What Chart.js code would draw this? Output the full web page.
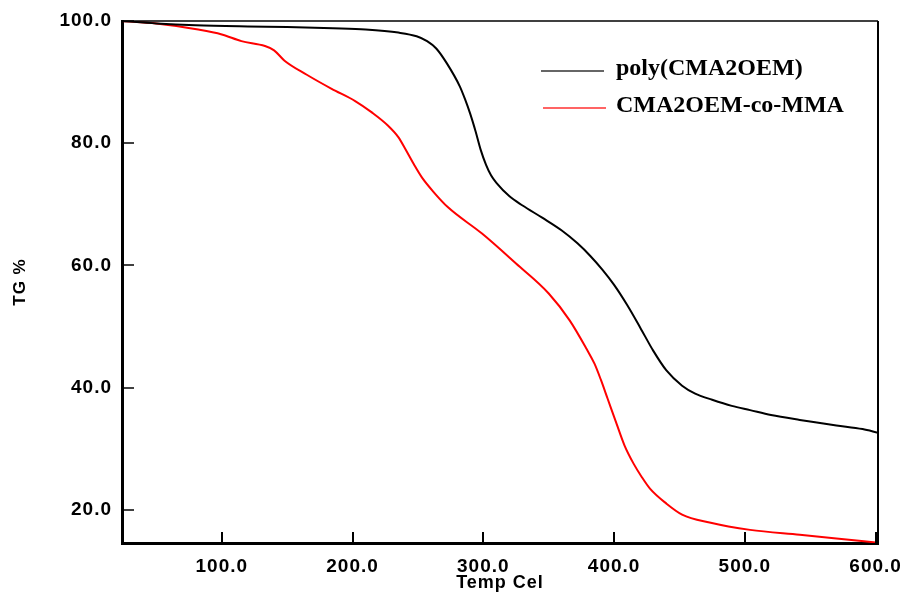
<!DOCTYPE html>
<html>
<head>
<meta charset="utf-8">
<script src="https://cdn.jsdelivr.net/npm/chart.js@4.4.1/dist/chart.umd.min.js"></script>
<style>
    html, body { margin: 0; padding: 0; background: #fff; }
    #wrap { width: 904px; height: 594px; }
</style>
</head>
<body>
<div id="wrap"><canvas id="tgaChart" width="904" height="594"></canvas></div>
<script>
// TGA curves
const polyTemp = [23.7, 50, 80, 120, 150, 185, 210, 235, 249, 257, 264, 272, 282, 286, 290, 294, 298, 302, 306, 310, 320, 330, 345, 360, 372, 382, 391, 400, 410, 420, 430, 440, 452, 462, 475, 490, 504, 520, 542, 570, 590, 601.8];
const polyTG = [100, 99.6, 99.3, 99.1, 99.0, 98.8, 98.6, 98.1, 97.5, 96.7, 95.5, 93.1, 89.3, 87.2, 84.8, 82, 78.9, 76.5, 74.7, 73.5, 71.3, 69.8, 67.8, 65.7, 63.6, 61.5, 59.3, 56.8, 53.5, 49.8, 46, 42.8, 40.3, 39, 38, 37, 36.3, 35.5, 34.7, 33.8, 33.2, 32.6];

const copoTemp = [23.7, 50, 82, 100, 115, 133, 140, 148, 165, 184, 202, 215, 227, 235, 241, 247, 253, 262, 273, 299, 325, 350, 366, 379, 385, 390, 395, 402, 408, 415, 421, 427.6, 440, 452, 473, 504, 542, 570, 601.8];
const copoTG = [100, 99.6, 98.6, 97.8, 96.7, 95.9, 95.2, 93.5, 91.2, 88.9, 86.9, 85, 82.9, 81, 78.8, 76.5, 74.4, 72, 69.5, 65.2, 60.3, 55.4, 51, 46.3, 43.9, 41.2, 38.2, 34, 30.5, 27.5, 25.4, 23.4, 21, 19.2, 17.9, 16.7, 15.9, 15.3, 14.6];

const seriesNames = ['poly(CMA2OEM)', 'CMA2OEM-co-MMA'];
const xTicks = [100, 200, 300, 400, 500, 600];
const yTicks = [20, 40, 60, 80, 100];

function toPoints(xs, ys) {
    return xs.map((x, i) => ({ x: x, y: ys[i] }));
}

// frame, inward ticks and the in-plot legend
const framePlugin = {
    id: 'frame',
    beforeDraw(chart) {
        chart.ctx.letterSpacing = '1px';
    },
    afterDraw(chart) {
        const ctx = chart.ctx;
        const area = chart.chartArea;
        const xs = chart.scales.x;
        const ys = chart.scales.y;
        ctx.save();
        ctx.letterSpacing = '0px';
        ctx.strokeStyle = '#000';

        // top and right edges
        ctx.lineWidth = 1.5;
        ctx.beginPath();
        ctx.moveTo(area.left, area.top);
        ctx.lineTo(area.right, area.top);
        ctx.stroke();
        ctx.lineWidth = 2;
        ctx.beginPath();
        ctx.moveTo(area.right, area.top);
        ctx.lineTo(area.right, area.bottom);
        ctx.stroke();

        // ticks pointing into the plot
        ctx.lineWidth = 2;
        xs.ticks.forEach(t => {
            const px = Math.round(xs.getPixelForValue(t.value));
            ctx.beginPath();
            ctx.moveTo(px, area.bottom);
            ctx.lineTo(px, area.bottom - 11);
            ctx.stroke();
        });
        ctx.lineWidth = 1.5;
        ys.ticks.forEach(t => {
            const py = Math.round(ys.getPixelForValue(t.value));
            ctx.beginPath();
            ctx.moveTo(area.left, py);
            ctx.lineTo(area.left + 12, py);
            ctx.stroke();
        });

        // legend
        const lx = area.left + 419;
        const ly = area.top + 50;
        const legendColors = ['#333', '#ff3030'];
        ctx.font = 'bold 24px "Liberation Serif", "Times New Roman", serif';
        ctx.textBaseline = 'middle';
        ctx.fillStyle = '#000';
        chart.data.datasets.forEach((ds, i) => {
            const y = ly + i * 37;
            ctx.strokeStyle = legendColors[i];
            ctx.lineWidth = 1.5;
            ctx.beginPath();
            ctx.moveTo(lx + i * 2, y);
            ctx.lineTo(lx + 63 + i * 2, y);
            ctx.stroke();
            ctx.fillText(ds.label, lx + 75, y - 2);
        });
        ctx.restore();
    }
};

const axisFont = { family: 'Arial, "Liberation Sans", sans-serif', weight: 'bold' };

new Chart(document.getElementById('tgaChart'), {
    type: 'line',
    data: {
        datasets: [{
            label: seriesNames[0],
            data: toPoints(polyTemp, polyTG),
            borderColor: '#000',
            borderWidth: 2,
            pointRadius: 0,
            cubicInterpolationMode: 'monotone'
        }, {
            label: seriesNames[1],
            data: toPoints(copoTemp, copoTG),
            borderColor: '#ff0000',
            borderWidth: 2,
            pointRadius: 0,
            cubicInterpolationMode: 'monotone'
        }]
    },
    options: {
        responsive: false,
        animation: false,
        layout: { padding: { top: 21, right: 26, left: 0, bottom: 0 } },
        scales: {
            x: {
                type: 'linear',
                min: 23.7,
                max: 601.8,
                afterBuildTicks: s => { s.ticks = xTicks.map(v => ({ value: v })); },
                afterFit: s => { s.height = 51; s.paddingLeft = 0; s.paddingRight = 0; },
                grid: { display: false, drawTicks: false },
                border: { display: true, color: '#000', width: 3 },
                ticks: {
                    color: '#000',
                    padding: 12,
                    maxRotation: 0,
                    font: Object.assign({ size: 19 }, axisFont),
                    callback: v => v.toFixed(1)
                },
                title: {
                    display: true,
                    text: 'Temp Cel',
                    color: '#000',
                    padding: { top: 0, bottom: 0 },
                    font: Object.assign({ size: 18 }, axisFont)
                }
            },
            y: {
                min: 14.55,
                max: 100,
                afterBuildTicks: s => { s.ticks = yTicks.map(v => ({ value: v })); },
                afterFit: s => { s.width = 122; s.paddingTop = 0; s.paddingBottom = 0; },
                grid: { display: false, drawTicks: false },
                border: { display: true, color: '#000', width: 3 },
                ticks: {
                    color: '#000',
                    padding: 10,
                    font: Object.assign({ size: 19 }, axisFont),
                    callback: v => v.toFixed(1)
                },
                title: {
                    display: true,
                    text: 'TG %',
                    color: '#000',
                    padding: { top: 10, bottom: 0 },
                    font: Object.assign({ size: 17 }, axisFont)
                }
            }
        },
        plugins: {
            legend: { display: false },
            tooltip: { enabled: false }
        }
    },
    plugins: [framePlugin]
});
</script>
</body>
</html>
